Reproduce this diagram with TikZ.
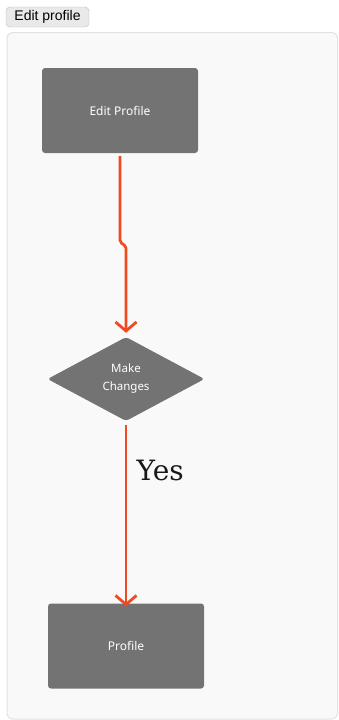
\documentclass[tikz,border=0pt]{standalone}
\usepackage{fontspec}
\setmainfont{Liberation Sans}
\newfontfamily\boxfont{Noto Sans}
\newfontfamily\yesfont{DejaVu Serif}
\usetikzlibrary{shapes.geometric,arrows.meta}

\definecolor{boxgray}{HTML}{737373}
\definecolor{flowred}{HTML}{F04A23}
\definecolor{panelbg}{HTML}{F9F9F9}
\definecolor{panelline}{HTML}{E2E2E2}
\definecolor{btnbg}{HTML}{E9E9E9}
\definecolor{btnline}{HTML}{BDBDBD}

\begin{document}
\begin{tikzpicture}[
        x=1pt, y=-1pt,
        block/.style={
            fill=boxgray,
            rounded corners=3pt,
            minimum width=156pt,
            minimum height=85pt,
            align=center,
            text=white,
            font=\boxfont\fontsize{12}{14}\selectfont
        },
        decision/.style={
            diamond,
            fill=boxgray,
            rounded corners=3pt,
            aspect=1.86,
            inner sep=0pt,
            minimum width=157pt,
            minimum height=84pt,
            align=center,
            text=white,
            font=\boxfont\fontsize{11.5}{18}\selectfont
        },
        arrow/.style={-{Straight Barb[length=9pt,width=21pt,line width=2.8pt]},
            draw=flowred, line width=2.8pt}
    ]

    \useasboundingbox (0,0) rectangle (338,720);
    \fill[white] (0,0) rectangle (338,720);

    % =========================
    % Page
    % =========================
    \node[draw=btnline, fill=btnbg, rounded corners=4pt, inner sep=0pt,
          minimum width=83pt, minimum height=20pt,
          font=\fontsize{14}{16}\selectfont] (button) at (47.5,17) {Edit profile};
    \draw[panelline, fill=panelbg, rounded corners=6pt, line width=1pt]
        (7,32.5) rectangle (337.5,719);

    % =========================
    % Flow
    % =========================
    \node[block] (edit)    at (120,110.5) {Edit Profile};
    \node[decision] (make) at (126,379)   {Make\\Changes};
    \node[block] (profile) at (126,646)   {Profile};

    \draw[arrow, rounded corners=2pt] ([yshift=-3pt]edit.south) -- ++(0,86)
        -- ++(6,4) |- ([yshift=4pt]make.north);
    \draw[arrow] ([yshift=-4pt]make.south) -- ([yshift=-3pt]profile.north)
        node[pos=0.25, right=6pt, font=\yesfont\fontsize{28}{30}\selectfont,
             text=black!90] (yes) {Yes};

    \end{tikzpicture}
\end{document}
